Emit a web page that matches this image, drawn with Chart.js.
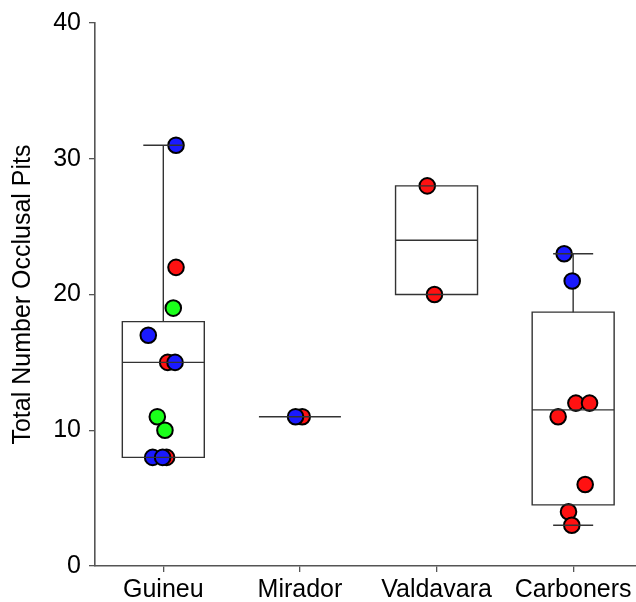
<!DOCTYPE html>
<html>
<head>
<meta charset="utf-8">
<script src="https://cdn.jsdelivr.net/npm/chart.js@4"></script>
<style>
  html, body { margin: 0; padding: 0; background: #fff; }
</style>
</head>
<body>
<canvas id="chart" width="636" height="602"></canvas>
<script>
// Sites along the x axis (placed at 1..4)
const sites = ['Guineu', 'Mirador', 'Valdavara', 'Carboners'];
const siteTicks = [1, 2, 3, 4];
const yTicks = [0, 10, 20, 30, 40];

// box plot summaries per site: min, q1, median, q3, max
const boxMin = [8, 11, 20, 3];
const boxQ1 = [8, 11, 20, 4.5];
const boxMed = [15, 11, 24, 11.5];
const boxQ3 = [18, 11, 28, 18.7];
const boxMax = [31, 11, 28, 23];

// individual specimens, x jittered around the site position
const blueX = [1.093, 0.89, 1.086, 0.922, 0.995, 1.968, 3.934, 3.993];
const blueY = [31, 17, 15, 8, 8, 11, 23, 21];
const greenX = [1.073, 0.956, 1.012];
const greenY = [19, 11, 10];
const redX = [1.093, 1.032, 1.024, 2.017, 2.932, 2.985, 4.02, 4.12, 3.89, 4.088, 3.966, 3.99];
const redY = [22, 15, 8, 11, 28, 20, 12, 12, 11, 6, 4, 3];

const pts = (xs, ys) => xs.map((x, i) => ({ x, y: ys[i] }));

const BOX_W = 0.6;   // in x units
const CAP_W = 0.293;
const LINE = '#333';

function boxPlot(chart, part) {
  const { ctx, scales: { x, y } } = chart;
  ctx.save();
  ctx.strokeStyle = LINE;
  ctx.lineWidth = 1.4;
  siteTicks.forEach((pos, i) => {
    const cx = x.getPixelForValue(pos);
    const l = x.getPixelForValue(pos - BOX_W / 2);
    const r = x.getPixelForValue(pos + BOX_W / 2);
    const cl = x.getPixelForValue(pos - CAP_W / 2);
    const cr = x.getPixelForValue(pos + CAP_W / 2);
    const yMin = y.getPixelForValue(boxMin[i]);
    const yQ1 = y.getPixelForValue(boxQ1[i]);
    const yMed = y.getPixelForValue(boxMed[i]);
    const yQ3 = y.getPixelForValue(boxQ3[i]);
    const yMax = y.getPixelForValue(boxMax[i]);
    ctx.beginPath();
    if (part === 'whisker') {
      if (boxMax[i] > boxQ3[i]) { ctx.moveTo(cx, yQ3); ctx.lineTo(cx, yMax); }
      if (boxMin[i] < boxQ1[i]) { ctx.moveTo(cx, yQ1); ctx.lineTo(cx, yMin); }
    } else {
      ctx.rect(l, yQ3, r - l, yQ1 - yQ3);
      ctx.moveTo(l, yMed); ctx.lineTo(r, yMed);
      if (boxMax[i] > boxQ3[i]) { ctx.moveTo(cl, yMax); ctx.lineTo(cr, yMax); }
      if (boxMin[i] < boxQ1[i]) { ctx.moveTo(cl, yMin); ctx.lineTo(cr, yMin); }
    }
    ctx.stroke();
  });
  ctx.restore();
}

const boxPlugin = {
  id: 'boxes',
  beforeDatasetsDraw: c => boxPlot(c, 'whisker'),
  afterDatasetsDraw: c => boxPlot(c, 'box')
};

const dotStyle = { pointRadius: 7.8, pointHoverRadius: 7.8, pointBorderWidth: 2, borderColor: '#000', showLine: false };

new Chart(document.getElementById('chart'), {
  type: 'scatter',
  data: {
    datasets: [
      { label: 'blue', data: pts(blueX, blueY), backgroundColor: '#1a1aff', ...dotStyle },
      { label: 'green', data: pts(greenX, greenY), backgroundColor: '#1aff1a', ...dotStyle },
      { label: 'red', data: pts(redX, redY), backgroundColor: '#ff1111', ...dotStyle }
    ]
  },
  plugins: [boxPlugin],
  options: {
    responsive: false,
    animation: false,
    devicePixelRatio: 1,
    layout: { autoPadding: false, padding: { top: 21, right: 0, left: 0, bottom: 0 } },
    plugins: { legend: { display: false }, tooltip: { enabled: false } },
    scales: {
      x: {
        type: 'linear',
        min: 0.5,
        max: 4.46,
        afterBuildTicks: s => { s.ticks = siteTicks.map(v => ({ value: v })); },
        afterFit: s => { s.height = 36; s.paddingRight = 0; s.paddingLeft = 0; },
        ticks: {
          callback: v => sites[v - 1],
          font: { family: 'Liberation Sans, Arial', size: 25 },
          color: '#000',
          padding: 3,
          maxRotation: 0
        },
        grid: { drawOnChartArea: false, drawTicks: true, tickLength: 6, color: '#555', lineWidth: 1.3 },
        border: { display: true, color: '#555', width: 1.6 }
      },
      y: {
        min: 0,
        max: 40,
        afterBuildTicks: s => { s.ticks = yTicks.map(v => ({ value: v })); },
        afterFit: s => { s.width = 95; },
        ticks: {
          font: { family: 'Liberation Sans, Arial', size: 25 },
          color: '#000',
          padding: 8
        },
        title: {
          display: true,
          text: 'Total Number Occlusal Pits',
          font: { family: 'Liberation Sans, Arial', size: 25 },
          color: '#000',
          padding: { top: 8, bottom: 0 }
        },
        grid: { drawOnChartArea: false, drawTicks: true, tickLength: 6, color: '#555', lineWidth: 1.3 },
        border: { display: true, color: '#555', width: 1.6 }
      }
    }
  }
});
</script>
</body>
</html>
